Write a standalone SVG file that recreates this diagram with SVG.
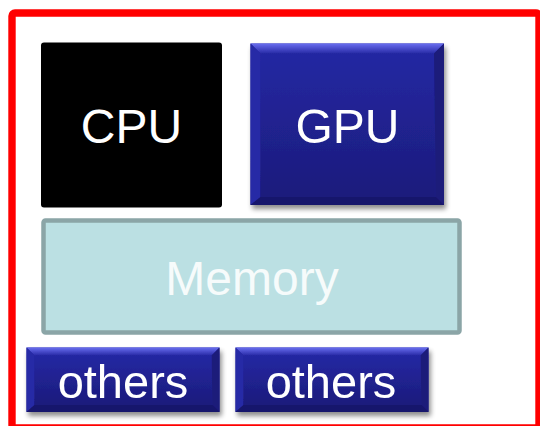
<svg xmlns="http://www.w3.org/2000/svg" width="540" height="426" viewBox="0 0 540 426">
<style>
.lbl{font-family:"Liberation Sans",Arial,sans-serif;fill:#ffffff;text-anchor:middle}
.big{font-size:48px}
.sm{font-size:47px}
.face{fill:url(#faceG)}
.btop{fill:url(#topG)}
.bleft{fill:#2629a6}
.bright{fill:#1c1b7a}
.bbot{fill:#19186c}
</style>
<defs>
<linearGradient id="faceG" x1="0" y1="0" x2="0" y2="1">
<stop offset="0" stop-color="#2428a2"/>
<stop offset="1" stop-color="#1c1b7c"/>
</linearGradient>
<linearGradient id="topG" x1="0" y1="0" x2="0" y2="1">
<stop offset="0" stop-color="#6a6ef0"/>
<stop offset="1" stop-color="#272aa6"/>
</linearGradient>
<filter id="shadow" x="-10%" y="-10%" width="130%" height="140%">
<feGaussianBlur in="SourceAlpha" stdDeviation="2.5"/>
<feOffset dx="2" dy="4" result="b"/>
<feComponentTransfer><feFuncA type="linear" slope="0.45"/></feComponentTransfer>
<feMerge><feMergeNode/><feMergeNode in="SourceGraphic"/></feMerge>
</filter>
</defs>
<rect x="12" y="13" width="527" height="415" rx="3" fill="#ffffff" stroke="#ff0000" stroke-width="7.4"/>
<g id="cpu">
<rect x="41" y="42.5" width="181" height="165" rx="3" fill="#000000"/>
<text class="lbl big" x="131.5" y="143">CPU</text>
</g>
<g id="gpu" filter="url(#shadow)">
<rect class="face" x="250.5" y="43.5" width="193.5" height="161.5"/>
<polygon class="btop" points="250.5,43.5 444,43.5 434,53.5 260.5,53.5"/>
<polygon class="bleft" points="250.5,43.5 260.5,53.5 260.5,197 250.5,205"/>
<polygon class="bright" points="444,43.5 444,205 436,197 434,53.5"/>
<polygon class="bbot" points="250.5,205 260.5,197 436,197 444,205"/>
<rect class="face" x="260.5" y="53.5" width="173.5" height="143.5"/>
<text class="lbl big" x="347.5" y="143">GPU</text>
</g>
<g id="memory">
<rect x="43.5" y="220.5" width="416" height="112" rx="2" fill="#bbe0e3" stroke="#8ba5a7" stroke-width="4.5"/>
<text class="lbl big" x="252" y="295" style="fill:#f6fbfb">Memory</text>
</g>
<g id="others1" filter="url(#shadow)">
<rect class="face" x="26.5" y="347.5" width="193" height="64.5"/>
<polygon class="btop" points="26.5,347.5 219.5,347.5 211.5,355.5 34.5,355.5"/>
<polygon class="bleft" points="26.5,347.5 34.5,355.5 34.5,405 26.5,412"/>
<polygon class="bright" points="219.5,347.5 219.5,412 212.5,405 211.5,355.5"/>
<polygon class="bbot" points="26.5,412 34.5,405 212.5,405 219.5,412"/>
<rect class="face" x="34.5" y="355.5" width="177" height="49.5"/>
<text class="lbl sm" x="123" y="398">others</text>
</g>
<g id="others2" filter="url(#shadow)">
<rect class="face" x="235.5" y="347.5" width="193" height="64.5"/>
<polygon class="btop" points="235.5,347.5 428.5,347.5 420.5,355.5 243.5,355.5"/>
<polygon class="bleft" points="235.5,347.5 243.5,355.5 243.5,405 235.5,412"/>
<polygon class="bright" points="428.5,347.5 428.5,412 421.5,405 420.5,355.5"/>
<polygon class="bbot" points="235.5,412 243.5,405 421.5,405 428.5,412"/>
<rect class="face" x="243.5" y="355.5" width="177" height="49.5"/>
<text class="lbl sm" x="331" y="398">others</text>
</g>
<g id="connectors"/>
</svg>
